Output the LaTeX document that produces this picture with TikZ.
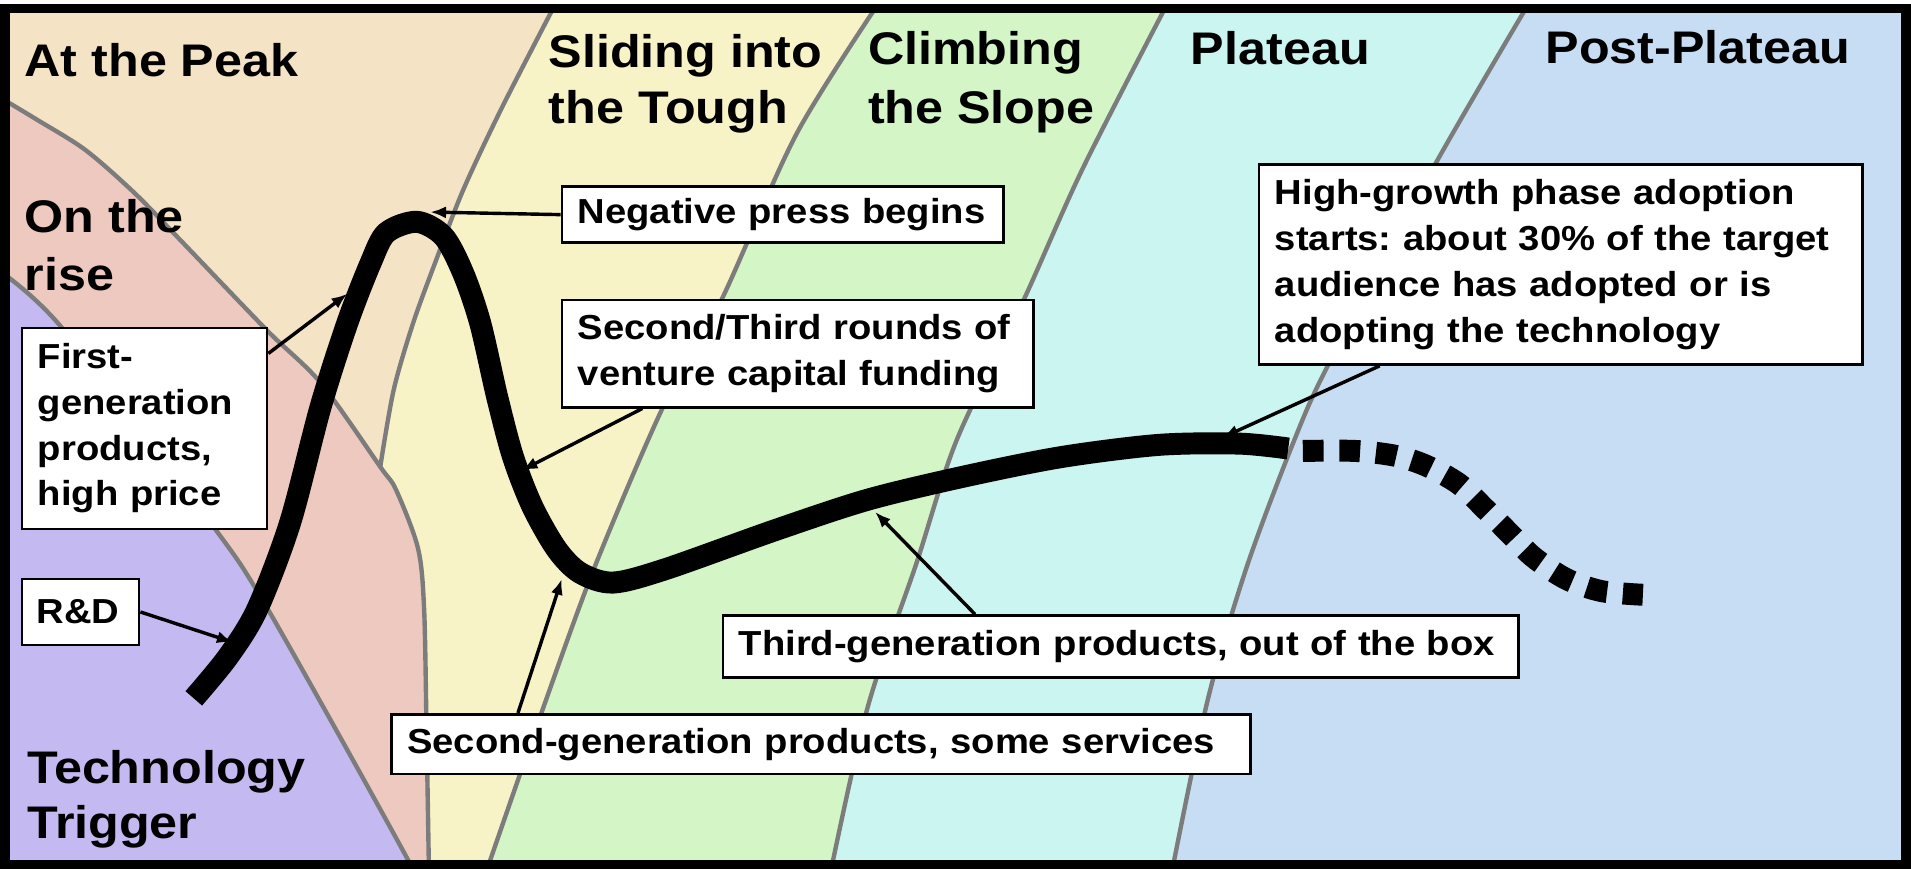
\documentclass[tikz,border=0pt]{standalone}
\usepackage{fontspec}
\newfontfamily\labfont{Liberation Sans}[FakeStretch=1.1]
\usetikzlibrary{arrows.meta}
\definecolor{cTrig}{HTML}{C4BAF1}
\definecolor{cRise}{HTML}{EEC9BF}
\definecolor{cPeak}{HTML}{F4E3C4}
\definecolor{cSlide}{HTML}{F8F3C6}
\definecolor{cClimb}{HTML}{D4F5C6}
\definecolor{cPlat}{HTML}{CBF5F0}
\definecolor{cPost}{HTML}{C6DDF4}
\definecolor{cEdge}{HTML}{7C7C7C}
\frenchspacing
\begin{document}
\begin{tikzpicture}[x=1pt,y=-1pt,
  head/.style={font=\labfont\bfseries\fontsize{37.5pt}{47pt}\selectfont, inner sep=0pt, anchor=base west, text=black},
  box/.style={draw=black, line width=2.2pt, fill=white, inner xsep=13pt, inner ysep=0pt, align=left, anchor=north west, font=\labfont\bfseries\fontsize{28.5pt}{37.5pt}\selectfont},
  edge/.style={draw=cEdge, line width=3.6pt},
  arr/.style={-{Latex[length=13pt,width=10pt]}, line width=2.8pt},
  hype/.style={line width=18pt, line join=round, line cap=butt}]
\useasboundingbox (0,0) rectangle (1568,713);
\fill[white] (0,0) rectangle (1568,713);
\begin{scope}
\clip (4,7) rectangle (1564,710);
% phase backgrounds
\fill[cPost] (-10,-10) rectangle (1580,720);
\fill[cPlat] (-10,-10) -- plot[smooth] coordinates {(1259,-5) (1178,134) (1091,297) (1062,361) (1023,465) (991,574) (961,718)} -- (-10,720) -- cycle;
\fill[cClimb] (-10,-10) -- plot[smooth] coordinates {(962,-5) (889,137) (840,246) (785,361) (752,462) (712,580) (681,718)} -- (-10,720) -- cycle;
\fill[cSlide] (-10,-10) -- plot[smooth] coordinates {(726,-5) (654,109) (592,246) (544,334) (488,465) (446,580) (398,718)} -- (-10,720) -- cycle;
\fill[cPeak] (-10,-10) -- plot[smooth] coordinates {(460,-5) (412,88) (380,156) (358,213) (339,265) (323,320) (312,383)} -- (300,720) -- (-10,720) -- cycle;
\fill[cRise] plot[smooth] coordinates {(-5,77) (30,98) (70,123) (110,158) (148,197) (219,271) (263,314) (312,383) (325,402) (343,450) (348,500) (350,600) (352,718)} -- (-10,720) -- cycle;
\fill[cTrig] plot[smooth] coordinates {(-5,219) (50,268) (175,432) (211,485) (268,585) (335,706) (339,718)} -- (-10,720) -- cycle;
% phase boundaries
\draw[edge] plot[smooth] coordinates {(1259,-5) (1178,134) (1091,297) (1062,361) (1023,465) (991,574) (961,718)};
\draw[edge] plot[smooth] coordinates {(962,-5) (889,137) (840,246) (785,361) (752,462) (712,580) (681,718)};
\draw[edge] plot[smooth] coordinates {(726,-5) (654,109) (592,246) (544,334) (488,465) (446,580) (398,718)};
\draw[edge] plot[smooth] coordinates {(460,-5) (412,88) (380,156) (358,213) (339,265) (323,320) (312,383)};
\draw[edge] plot[smooth] coordinates {(-5,77) (30,98) (70,123) (110,158) (148,197) (219,271) (263,314) (312,383) (325,402) (343,450) (348,500) (350,600) (352,718)};
\draw[edge] plot[smooth] coordinates {(-5,219) (50,268) (175,432) (211,485) (268,585) (335,706) (339,718)};
\end{scope}
% phase titles
\node[head] (h1) at (20,63) {At the Peak};
\node[head] (h2a) at (20,191) {On the};
\node[head] (h2b) at (20,238) {rise};
\node[head] (h3a) at (450,55) {Sliding into};
\node[head] (h3b) at (450,101) {the Tough};
\node[head] (h4a) at (712,53) {Climbing};
\node[head] (h4b) at (712,101) {the Slope};
\node[head] (h5) at (977,53) {Plateau};
\node[head] (h6) at (1268,52) {Post-Plateau};
\node[head] (h7a) at (22,643) {Technology};
\node[head] (h7b) at (22,688) {Trigger};
% hype curve
\draw[hype] plot[smooth] coordinates {(159,573) (187,539) (211,500) (238,429) (263,334) (285,265) (304,216) (317,191) (342,182) (364,194) (380,224) (394,265) (408,326) (421,375) (437,416) (457,451) (476,470) (503,478) (546,467) (636,435) (712,410) (791,391) (871,375) (951,365) (1017,364) (1057,368)};
\draw[hype, dash pattern=on 17pt off 13pt] plot[smooth] coordinates {(1069,370) (1112,370) (1145,374) (1170,382) (1197,397) (1218,417) (1238,437) (1258,457) (1285,475) (1314,485) (1348,488)};
% arrow targets on the curve
\coordinate (tRD) at (191,527);
\coordinate (tFG) at (285,241);
\coordinate (tNeg) at (353,174);
\coordinate (tVC) at (428,386);
\coordinate (tSG) at (461,475);
\coordinate (tTG) at (718,420);
\coordinate (tHG) at (1003,359);
% callout boxes
\node[box, text width=336pt, minimum height=46pt] (neg) at (460,152) {Negative press begins};
\node[box, text width=361pt, minimum height=88pt] (vc) at (460,245) {Second/Third rounds of\\venture capital funding};
\node[box, text width=469pt, minimum height=164pt] (hg) at (1032,134) {High-growth phase adoption\\starts: about 30\% of the target\\audience has adopted or is\\adopting the technology};
\node[box, text width=175pt, minimum height=165pt] (fg) at (17,268) {First-\\generation\\products,\\high price};
\node[box, text width=72pt, inner xsep=12pt, minimum height=54pt] (rd) at (17,474) {R\&D};
\node[box, text width=627pt, minimum height=51pt] (tg) at (592,504) {Third-generation products, out of the box};
\node[box, text width=679pt, minimum height=49pt] (sg) at (320,585) {Second-generation products, some services};
% connectors
\draw[arr] (rd.east) -- (tRD);
\draw[arr] ([yshift=-22pt]fg.north east) -- (tFG);
\draw[arr] (neg.west) -- (tNeg);
\draw[arr] ([xshift=67pt]vc.south west) -- (tVC);
\draw[arr] ([xshift=105pt]sg.north west) -- (tSG);
\draw[arr] ([xshift=208pt]tg.north west) -- (tTG);
\draw[arr] ([xshift=100pt]hg.south west) -- (tHG);
% frame
\draw[line width=8pt] (4,7) rectangle (1564,710);
\end{tikzpicture}
\end{document}
